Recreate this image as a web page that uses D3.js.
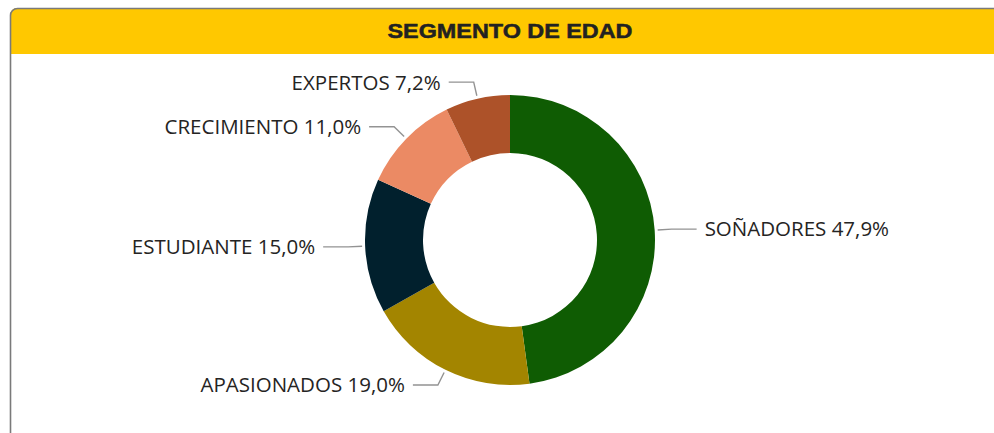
<!DOCTYPE html>
<html>
<head>
<meta charset="utf-8">
<script src="https://cdn.jsdelivr.net/npm/d3@7"></script>
<style>
  body { margin: 0; background: #fff; overflow: hidden; }
  svg { display: block; }
</style>
</head>
<body>
<div id="chart"></div>
<script>
const categories = ["SOÑADORES", "APASIONADOS", "ESTUDIANTE", "CRECIMIENTO", "EXPERTOS"];
const values = [47.9, 19.0, 15.0, 11.0, 7.2];
const colors = ["#0f5c03", "#a38500", "#01202d", "#eb8a64", "#ad5229"];
const title = "SEGMENTO DE EDAD";

const width = 994, height = 433;

const svg = d3.select("#chart")
    .append("svg")
    .attr("width", width)
    .attr("height", height);

// card, clipped off at right and bottom like the screenshot
svg.append("clipPath")
    .attr("id", "card")
    .append("rect")
    .attr("x", 10).attr("y", 8)
    .attr("width", 1010).attr("height", 450)
    .attr("rx", 7);

svg.append("rect")
    .attr("x", 10).attr("y", 8)
    .attr("width", 1010).attr("height", 450)
    .attr("rx", 7)
    .attr("fill", "#fff");

svg.append("rect")
    .attr("clip-path", "url(#card)")
    .attr("x", 10).attr("y", 8)
    .attr("width", 1010).attr("height", 46)
    .attr("fill", "#ffc800");

svg.append("rect")
    .attr("x", 10.5).attr("y", 8.5)
    .attr("width", 1010).attr("height", 450)
    .attr("rx", 7)
    .attr("fill", "none")
    .attr("stroke", "#7a7a7a")
    .attr("stroke-width", 1.6);

svg.append("text")
    .attr("x", 510)
    .attr("y", 38)
    .attr("text-anchor", "middle")
    .attr("font-family", "'Liberation Sans', Arial, sans-serif")
    .attr("font-weight", "bold")
    .attr("font-size", 21)
    .attr("fill", "#222")
    .attr("stroke", "#222")
    .attr("stroke-width", 0.5)
    .attr("textLength", 245)
    .attr("lengthAdjust", "spacingAndGlyphs")
    .text(title);

// donut
const cx = 510, cy = 240;
const outerR = 145, innerR = 87;

const data = categories.map((c, i) => ({name: c, value: values[i], color: colors[i]}));

const pie = d3.pie()
    .sort(null)
    .value(d => d.value);

const arc = d3.arc()
    .innerRadius(innerR)
    .outerRadius(outerR);

const arcs = pie(data);

const g = svg.append("g")
    .attr("transform", `translate(${cx},${cy})`);

g.selectAll("path")
    .data(arcs)
    .join("path")
    .attr("d", arc)
    .attr("fill", d => d.data.color);

// leader lines + labels
const startArc = d3.arc().innerRadius(outerR + 3).outerRadius(outerR + 3);
const elbowArc = d3.arc().innerRadius(outerR + 17).outerRadius(outerR + 17);
const midAngle = d => (d.startAngle + d.endAngle) / 2;
const fmt = v => v.toFixed(1).replace(".", ",") + "%";

g.selectAll("polyline")
    .data(arcs)
    .join("polyline")
    .attr("fill", "none")
    .attr("stroke", "#939393")
    .attr("stroke-width", 1.4)
    .attr("points", d => {
        const a = startArc.centroid(d);
        const b = elbowArc.centroid(d);
        const side = midAngle(d) < Math.PI ? 1 : -1;
        const c = [b[0] + side * 25, b[1]];
        return [a, b, c].map(p => p.join(",")).join(" ");
    });

g.selectAll("text.label")
    .data(arcs)
    .join("text")
    .attr("class", "label")
    .attr("x", d => {
        const b = elbowArc.centroid(d);
        return b[0] + (midAngle(d) < Math.PI ? 33 : -33);
    })
    .attr("y", d => elbowArc.centroid(d)[1])
    .attr("dy", "0.36em")
    .attr("text-anchor", d => midAngle(d) < Math.PI ? "start" : "end")
    .attr("font-family", "'Segoe UI', 'Open Sans', sans-serif")
    .attr("font-size", 20.5)
    .attr("fill", "#252423")
    .text(d => `${d.data.name} ${fmt(d.data.value)}`);
</script>
</body>
</html>
